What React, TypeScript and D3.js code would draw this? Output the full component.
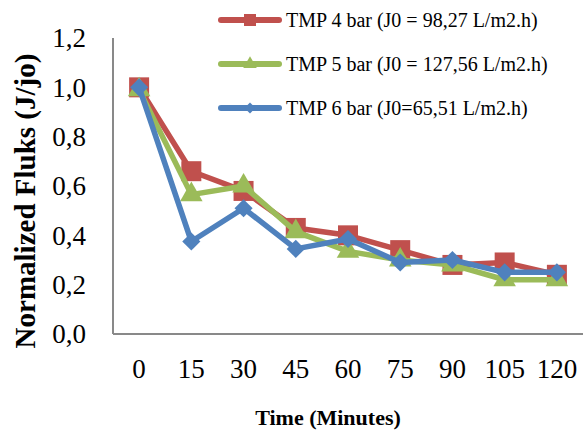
import React from 'react';
import * as d3 from 'd3';

const minutes = ['0', '15', '30', '45', '60', '75', '90', '105', '120'];
const tmp4 = [1.0, 0.66, 0.58, 0.43, 0.4, 0.34, 0.28, 0.29, 0.24];
const tmp5 = [0.99, 0.565, 0.6, 0.415, 0.335, 0.3, 0.28, 0.22, 0.22];
const tmp6 = [1.0, 0.375, 0.51, 0.345, 0.385, 0.29, 0.3, 0.25, 0.25];
const yTicks = [0, 0.2, 0.4, 0.6, 0.8, 1.0, 1.2];

const series = [
  { name: 'TMP 4 bar (J0 = 98,27 L/m2.h)', values: tmp4, color: '#C0504D', shape: 'square' },
  { name: 'TMP 5 bar (J0 = 127,56 L/m2.h)', values: tmp5, color: '#9BBB59', shape: 'triangle' },
  { name: 'TMP 6 bar (J0=65,51 L/m2.h)', values: tmp6, color: '#4F81BD', shape: 'diamond' },
];

const W = 583;
const H = 432;
const margin = { top: 38, right: 0, bottom: 98, left: 113 };
const font = "'Liberation Serif', 'Times New Roman', Times, serif";

function markerPath(shape: string, big: boolean) {
  const k = big ? 1 : 0.36;
  if (shape === 'square') return d3.symbol(d3.symbolSquare, 400 * k)()!;
  if (shape === 'triangle') return d3.symbol(d3.symbolTriangle, 220 * k)()!;
  return d3.symbol(d3.symbolDiamond2, 210 * k)()!;
}

export default function App() {
  const x = d3.scaleBand().domain(minutes).range([margin.left, W - margin.right]);
  const y = d3.scaleLinear().domain([0, 1.2]).range([H - margin.bottom, margin.top]);
  const cx = (d: string) => (x(d) as number) + x.bandwidth() / 2;

  const line = d3.line<number>()
    .x((_, i) => cx(minutes[i]))
    .y(v => y(v));

  return (
    <svg width={W} height={H} style={{ position: 'absolute', left: 0, top: 0, background: '#fff', fontFamily: font }}>
      {/* axes */}
      <line x1={margin.left} x2={margin.left} y1={y(1.2)} y2={y(0)} stroke="#898989" strokeWidth={2} />
      <line x1={margin.left} x2={W} y1={y(0)} y2={y(0)} stroke="#898989" strokeWidth={2} />

      {yTicks.map(t => (
        <text key={t} x={86} y={y(t)} dy="0.35em" textAnchor="end" fontSize={27} fill="#000">
          {d3.format('.1f')(t).replace('.', ',')}
        </text>
      ))}
      {minutes.map(m => (
        <text key={m} x={cx(m)} y={378} textAnchor="middle" fontSize={27} fill="#000">{m}</text>
      ))}

      <text x={328} y={425} textAnchor="middle" fontSize={22} fontWeight="bold">Time (Minutes)</text>
      <text transform={`translate(35,201) rotate(-90)`} textAnchor="middle" fontSize={29} fontWeight="bold">
        Normalized Fluks (J/jo)
      </text>

      {/* series */}
      {series.map(s => (
        <g key={s.name}>
          <path d={line(s.values)!} fill="none" stroke={s.color} strokeWidth={5.5} strokeLinejoin="round" />
          {s.values.map((v, i) => (
            <path key={i} d={markerPath(s.shape, true)} transform={`translate(${cx(minutes[i])},${y(v)})`} fill={s.color} />
          ))}
        </g>
      ))}

      {/* legend */}
      {series.map((s, i) => {
        const ly = 20 + i * 44;
        return (
          <g key={s.name}>
            <line x1={221} x2={279} y1={ly} y2={ly} stroke={s.color} strokeWidth={6} strokeLinecap="round" />
            <path d={markerPath(s.shape, false)} transform={`translate(250,${ly})`} fill={s.color} />
            <text x={286} y={ly} dy="0.35em" fontSize={20} fill="#000">{s.name}</text>
          </g>
        );
      })}
    </svg>
  );
}
